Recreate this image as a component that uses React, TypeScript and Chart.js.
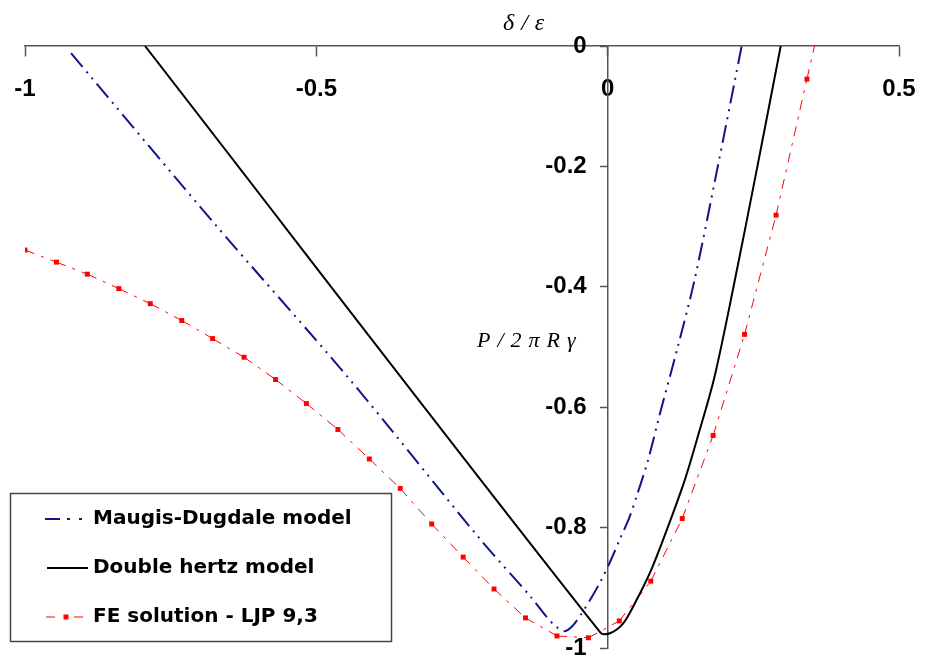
import React, { useEffect, useRef } from "react";
import { Chart, registerables } from "chart.js";

Chart.register(...registerables);

// ---- data ----
const xTicks = [-1, -0.5, 0, 0.5];
const yTicks = [-1, -0.8, -0.6, -0.4, -0.2, 0];

const seriesNames = ["Maugis-Dugdale model", "Double hertz model", "FE solution - LJP 9,3"];

// Maugis-Dugdale model
const mdX = [-0.921, -0.674, -0.446, -0.22, -0.132, -0.105, -0.088, -0.074, -0.06, -0.045, -0.03, -0.012, 0.005, 0.022, 0.037, 0.051, 0.069, 0.091, 0.12, 0.149, 0.189, 0.23];
const mdY = [-0.012, -0.296, -0.55, -0.818, -0.915, -0.948, -0.965, -0.972, -0.963, -0.943, -0.92, -0.889, -0.855, -0.817, -0.784, -0.744, -0.689, -0.606, -0.501, -0.389, -0.2, 0];

// Double hertz model
const dhX = [-0.794, -0.012, 0.005, 0.026, 0.046, 0.074, 0.103, 0.132, 0.154, 0.183, 0.216, 0.257, 0.297];
const dhY = [0, -0.975, -0.975, -0.96, -0.927, -0.872, -0.8, -0.722, -0.651, -0.551, -0.4, -0.2, 0];

// FE solution - LJP 9,3 (markers)
const feX = [-1, -0.946, -0.893, -0.839, -0.785, -0.731, -0.678, -0.624, -0.57, -0.517, -0.463, -0.409, -0.356, -0.302, -0.248, -0.195, -0.141, -0.087, -0.033, 0.02, 0.074, 0.128, 0.181, 0.235, 0.289, 0.342, 0.355];
const feY = [-0.339, -0.359, -0.379, -0.403, -0.428, -0.456, -0.486, -0.517, -0.554, -0.594, -0.637, -0.686, -0.735, -0.794, -0.849, -0.902, -0.95, -0.98, -0.983, -0.955, -0.889, -0.785, -0.647, -0.479, -0.281, -0.055, 0];
const feMarker = [1, 1, 1, 1, 1, 1, 1, 1, 1, 1, 1, 1, 1, 1, 1, 1, 1, 1, 1, 1, 1, 1, 1, 1, 1, 1, 0];

const BLUE = "#14148a";
const RED = "#ff0000";
const AXIS = "#555555";
const MD_DASH = [18, 6, 2, 6, 2, 6];
const FE_DASH = [10, 7, 3, 7];

const zip = (xs: number[], ys: number[]) => xs.map((x, i) => ({ x, y: ys[i] }));

const titlesPlugin = {
  id: "axisTitles",
  afterDraw(chart: any) {
    const ctx = chart.ctx as CanvasRenderingContext2D;
    ctx.save();
    ctx.fillStyle = "#000";
    ctx.textBaseline = "alphabetic";
    ctx.textAlign = "left";
    ctx.font = 'italic 24px "Liberation Serif"';
    (ctx as any).letterSpacing = "7px";
    ctx.fillText("δ/ε", 503, 30);
    ctx.font = 'italic 22px "Liberation Serif"';
    (ctx as any).letterSpacing = "7px";
    ctx.fillText("P/2πRγ", 477, 347);
    ctx.restore();
  },
};

const legendPlugin = {
  id: "boxLegend",
  afterDraw(chart: any) {
    const ctx = chart.ctx as CanvasRenderingContext2D;
    ctx.save();
    ctx.fillStyle = "#fff";
    ctx.fillRect(10, 493, 382, 149);
    ctx.strokeStyle = "#444";
    ctx.lineWidth = 1.5;
    ctx.strokeRect(10.5, 493.5, 381, 148);

    const rows = [519, 568, 617];
    // blue sample
    ctx.strokeStyle = BLUE;
    ctx.lineWidth = 2;
    ctx.setLineDash([15, 7, 3, 9, 3, 20]);
    ctx.beginPath();
    ctx.moveTo(45, rows[0]);
    ctx.lineTo(88, rows[0]);
    ctx.stroke();
    // black sample
    ctx.setLineDash([]);
    ctx.strokeStyle = "#000";
    ctx.beginPath();
    ctx.moveTo(47, rows[1]);
    ctx.lineTo(88, rows[1]);
    ctx.stroke();
    // red sample
    ctx.strokeStyle = RED;
    ctx.lineWidth = 1;
    ctx.setLineDash([9, 19]);
    ctx.beginPath();
    ctx.moveTo(46, rows[2]);
    ctx.lineTo(84, rows[2]);
    ctx.stroke();
    ctx.setLineDash([]);
    ctx.fillStyle = RED;
    ctx.fillRect(63.5, rows[2] - 2.5, 5, 5);

    ctx.fillStyle = "#000";
    ctx.font = 'bold 20px "DejaVu Sans"';
    ctx.textBaseline = "middle";
    ctx.textAlign = "left";
    seriesNames.forEach((n, i) => ctx.fillText(n, 93, rows[i]));
    ctx.restore();
  },
};

const fmt = (v: number) => String(Number(Number(v).toFixed(1)));

export default function App() {
  const ref = useRef<HTMLCanvasElement | null>(null);

  useEffect(() => {
    if (!ref.current) return;
    const tickFont = { family: '"Liberation Sans", Arial, sans-serif', weight: "bold" as const, size: 24 };
    const chart = new Chart(ref.current, {
      type: "line",
      data: {
        datasets: [
          {
            label: seriesNames[0],
            data: zip(mdX, mdY),
            borderColor: BLUE,
            borderWidth: 2,
            borderDash: MD_DASH,
            pointRadius: 0,
            tension: 0.3,
            fill: false,
          },
          {
            label: seriesNames[1],
            data: zip(dhX, dhY),
            borderColor: "#000",
            borderWidth: 2,
            pointRadius: 0,
            tension: 0.3,
            fill: false,
          },
          {
            label: seriesNames[2],
            data: zip(feX, feY),
            borderColor: RED,
            borderWidth: 1,
            borderDash: FE_DASH,
            pointStyle: "rect",
            pointRadius: feMarker.map((m) => (m ? 3.5 : 0)),
            pointBackgroundColor: RED,
            pointBorderWidth: 0,
            tension: 0,
            fill: false,
            segment: {
              borderDashOffset: (c: any) => (c.p0DataIndex % 2 ? 0.01 : 0),
            },
          },
        ],
      },
      options: {
        animation: false,
        responsive: true,
        maintainAspectRatio: false,
        layout: { padding: { left: 25, right: 30, top: 46, bottom: 32 } },
        plugins: { legend: { display: false }, tooltip: { enabled: false } },
        scales: {
          x: {
            type: "linear",
            position: { y: 0 } as any,
            min: -1,
            max: 0.5,
            afterBuildTicks: (s: any) => {
              s.ticks = xTicks.map((v) => ({ value: v }));
            },
            ticks: {
              font: { ...tickFont, lineHeight: 2.75 },
              color: "#000",
              padding: 0,
              maxRotation: 0,
              autoSkip: false,
              callback: (v: any) => fmt(v),
            },
            grid: { drawOnChartArea: false, drawTicks: true, tickLength: 10, tickColor: AXIS, tickWidth: 1.5 },
            border: { display: true, color: AXIS, width: 1.5 },
          },
          y: {
            type: "linear",
            position: { x: 0 } as any,
            min: -1,
            max: 0,
            afterBuildTicks: (s: any) => {
              s.ticks = yTicks.map((v) => ({ value: v }));
            },
            ticks: { display: false },
            grid: { drawOnChartArea: false, drawTicks: true, tickLength: 7, tickColor: AXIS, tickWidth: 1.5 },
            border: { display: true, color: AXIS, width: 1.5 },
          },
          yl: {
            type: "linear",
            axis: "y",
            position: { x: -0.036 } as any,
            min: -1,
            max: 0,
            afterBuildTicks: (s: any) => {
              s.ticks = yTicks.map((v) => ({ value: v }));
            },
            ticks: { font: tickFont, color: "#000", padding: 0, autoSkip: false, callback: (v: any) => fmt(v) },
            grid: { display: false },
            border: { display: false },
          },
        } as any,
      },
      plugins: [titlesPlugin, legendPlugin],
    });
    return () => chart.destroy();
  }, []);

  return (
    <div style={{ position: "absolute", left: 0, top: 0, width: 929, height: 657, overflow: "hidden", background: "#fff" }}>
      <div style={{ position: "relative", width: 929, height: 680 }}>
        <canvas ref={ref} />
      </div>
    </div>
  );
}
